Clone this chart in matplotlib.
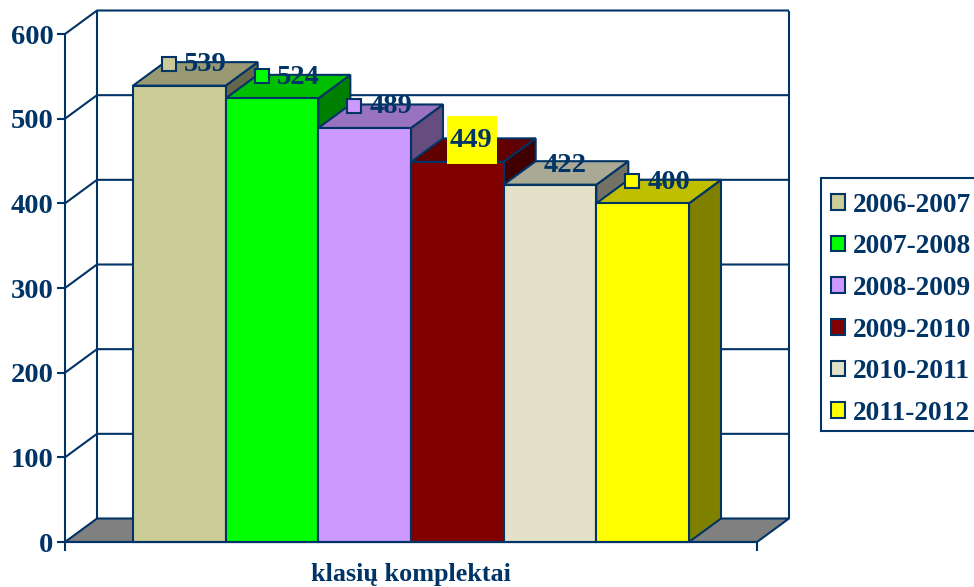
import matplotlib
matplotlib.use("Agg")
import matplotlib.pyplot as plt
from matplotlib.patches import Polygon, Patch, Rectangle
from matplotlib.colors import to_rgb

seasons = ["2006-2007", "2007-2008", "2008-2009", "2009-2010", "2010-2011", "2011-2012"]
values = [539, 524, 489, 449, 422, 400]
colors = ["#CCCC99", "#00FF00", "#CC99FF", "#800000", "#E3E1C8", "#FFFF00"]
y_ticks = [0, 100, 200, 300, 400, 500, 600]
x_label = "klasių komplektai"

INK = "#003366"
W, H = 974, 587
plt.rcParams["font.family"] = ["Liberation Serif", "DejaVu Serif"]
plt.rcParams["font.weight"] = "bold"

fig = plt.figure(figsize=(W / 100, H / 100), dpi=100, facecolor="white")
ax = fig.add_axes([65 / W, (H - 542) / H, 692 / W, 508 / H])

bar_w_px = 92.67
PX = 1 / bar_w_px            # one pixel in category units
PY = 600 / 508               # one pixel in value units
x0 = -0.5 - 68 * PX
x1 = 5.5 + 68 * PX
ax.set_xlim(x0, x1)
ax.set_ylim(0, 600)
DX = 32 * PX
DY = 23.5 * PY
LW = 1.5


def shade(c, f):
    return tuple(v * f for v in to_rgb(c))


def poly(pts, face, z=3):
    ax.add_patch(Polygon(pts, closed=True, facecolor=face, edgecolor=INK,
                         linewidth=LW, clip_on=False, zorder=z, joinstyle="miter"))


def line(xs, ys, z=1.5, lw=LW):
    ax.plot(xs, ys, color=INK, linewidth=lw, clip_on=False, zorder=z,
            solid_capstyle="butt")


# floor and walls
poly([(x0, 0), (x0 + DX, DY), (x1 + DX, DY), (x1, 0)], "#808080", z=1.2)
line([x0 + DX, x0 + DX], [DY, 600 + DY])
line([x1 + DX, x1 + DX], [DY, 600 + DY])
for t in y_ticks[1:]:
    line([x0, x0 + DX, x1 + DX], [t, t + DY, t + DY])

# bars
for i, (v, c) in enumerate(zip(values, colors)):
    l, r = i - 0.5, i + 0.5
    poly([(r, 0), (r + DX, DY), (r + DX, v + DY), (r, v)], shade(c, 0.5), z=3 + i * 0.1)
    poly([(l, v), (l + DX, v + DY), (r + DX, v + DY), (r, v)], shade(c, 0.75), z=3 + i * 0.1)
    poly([(l, 0), (r, 0), (r, v), (l, v)], c, z=3 + i * 0.1)

# data labels
label_size = 20.5
for i, (v, c) in enumerate(zip(values, colors)):
    cy = v + DY - 1.5 * PY
    if i == 3:
        ax.add_patch(Rectangle((i - 10 * PX, v - 2 * PY), 50 * PX, 48 * PY,
                               facecolor="#FFFF00", edgecolor="none", zorder=5.9, clip_on=False))
        ax.text(i + 14 * PX, v + 21 * PY, str(v), color=INK, fontsize=label_size,
                ha="center", va="center", zorder=6)
    elif i == 4:
        ax.text(i - 0.07, cy - 3 * PY, str(v), color=INK, fontsize=label_size,
                ha="left", va="center", zorder=6)
    else:
        mx = i - 0.11
        ax.plot([mx], [cy], marker="s", markersize=9.5, markerfacecolor=c,
                markeredgecolor=INK, markeredgewidth=1.5, clip_on=False, zorder=6)
        ax.text(mx + 15 * PX, cy - 1 * PY, str(v), color=INK, fontsize=label_size,
                ha="left", va="center", zorder=6)

# axes
for s in ("top", "right"):
    ax.spines[s].set_visible(False)
for s in ("left", "bottom"):
    ax.spines[s].set_color(INK)
    ax.spines[s].set_linewidth(LW)
    ax.spines[s].set_zorder(5)
ax.set_yticks(y_ticks)
ax.set_yticklabels([str(t) for t in y_ticks], color=INK, fontsize=20.5)
ax.tick_params(axis="y", length=6, width=LW, color=INK, pad=2.4)
ax.set_xticks([x0, x1])
ax.set_xticklabels(["", ""])
ax.tick_params(axis="x", length=6.5, width=LW, color=INK, pad=0)
ax.set_xlabel(x_label, color=INK, fontsize=18.8, fontweight="bold", labelpad=8.5)

# legend
fig.add_artist(Rectangle((821 / W, (H - 431) / H), 170 / W, 253 / H, transform=fig.transFigure,
                         facecolor="white", edgecolor=INK, linewidth=LW))
handles = [Patch(facecolor=c, edgecolor=INK, linewidth=LW) for c in colors]
leg = fig.legend(handles, seasons, loc="upper left",
                 bbox_to_anchor=(831 / W, (H - 192.5) / H), bbox_transform=fig.transFigure,
                 prop={"size": 19.7, "weight": "bold", "family": "Liberation Serif"},
                 frameon=False, handlelength=0.51, handleheight=0.51, handletextpad=0.29,
                 labelspacing=0.61, borderpad=0, borderaxespad=0)
for t in leg.get_texts():
    t.set_color(INK)

fig.savefig("out.png", dpi=100)
